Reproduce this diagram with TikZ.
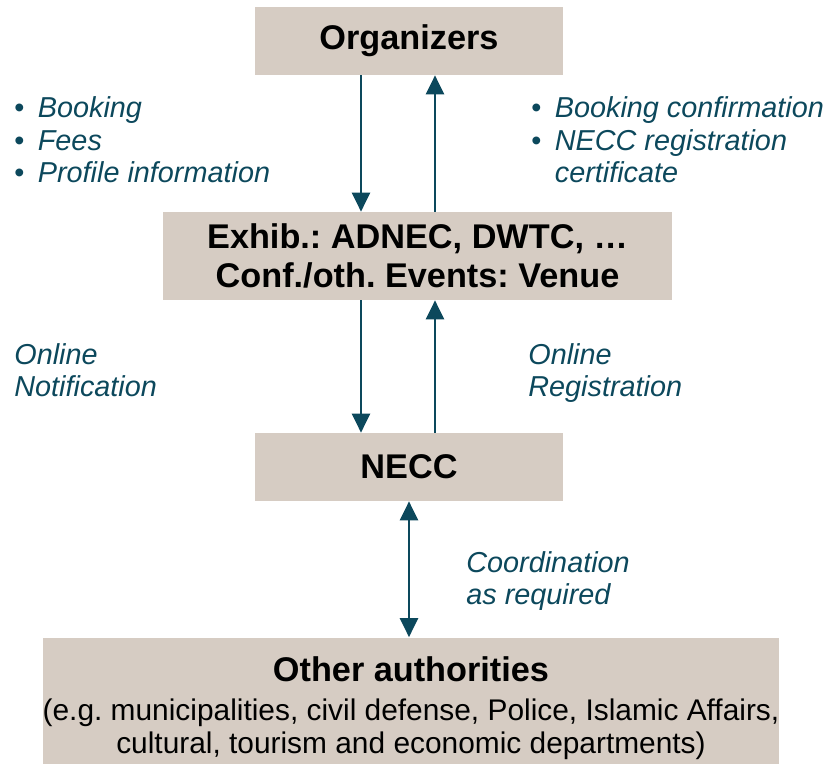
\documentclass[tikz,border=0pt]{standalone}
\usepackage{fontspec}
\setmainfont{Liberation Sans}
\usetikzlibrary{arrows.meta}
\definecolor{boxfill}{RGB}{214,204,195}
\definecolor{necteal}{RGB}{12,72,92}
\newcommand{\itm}{\makebox[0.47cm][l]{\upshape\textbullet}}
\frenchspacing

\begin{document}
\begin{tikzpicture}[
    box/.style={fill=boxfill,inner sep=0pt,align=center,font=\bfseries\fontsize{19.5}{22.5}\selectfont},
    lbl/.style={anchor=base west,inner sep=0pt,align=left,text=necteal,font=\itshape\fontsize{16.4}{18.4}\selectfont},
    arr/.style={draw=necteal,line width=1.4pt,>={Triangle[width=0.36cm,length=0.38cm]}}]
    \useasboundingbox (0,0) rectangle (16.56,-15.26);
    \coordinate (dn) at (7.22,0);
    \coordinate (up) at (8.70,0);
    \node[box,minimum width=6.16cm,minimum height=1.36cm] (org) at (8.18,-0.82) {Organizers};
    \node[box,minimum width=10.18cm,minimum height=1.76cm] (exh) at (8.35,-5.12)
        {Exhib.: ADNEC, DWTC, …\\Conf./oth. Events: Venue};
    \node[box,minimum width=6.16cm,minimum height=1.36cm] (nec) at (8.18,-9.34) {NECC};
    \node[box,minimum width=14.72cm,minimum height=2.82cm,font=\fontsize{17}{18.7}\selectfont] (oth) at (8.22,-14.16)
        {{\bfseries\fontsize{19.5}{23}\selectfont Other authorities}\\[3.5pt]
         (e.g. municipalities, civil defense, Police, Islamic Affairs,\\
         cultural, tourism and economic departments)};
    \draw[arr,->] (org.south -| dn) -- (exh.north -| dn);
    \draw[arr,->] (exh.north -| up) -- (org.south -| up);
    \draw[arr,->] (exh.south -| dn) -- (nec.north -| dn);
    \draw[arr,->] (nec.north -| up) -- (exh.south -| up);
    \draw[arr,<->] (nec.south) -- (oth.north -| nec.south);
    \node[lbl] (inp) at (0.28,-3.65) {\itm Booking\\\itm Fees\\\itm Profile information};
    \node[lbl] (outp) at (10.62,-3.65) {\itm Booking confirmation\\\itm NECC registration\\\hspace*{0.47cm}certificate};
    \node[lbl] (notif) at (0.28,-7.93) {Online\\Notification};
    \node[lbl] (regis) at (10.56,-7.93) {Online\\Registration};
    \node[lbl] (coord) at (9.32,-12.09) {Coordination\\as required};
\end{tikzpicture}
\end{document}
